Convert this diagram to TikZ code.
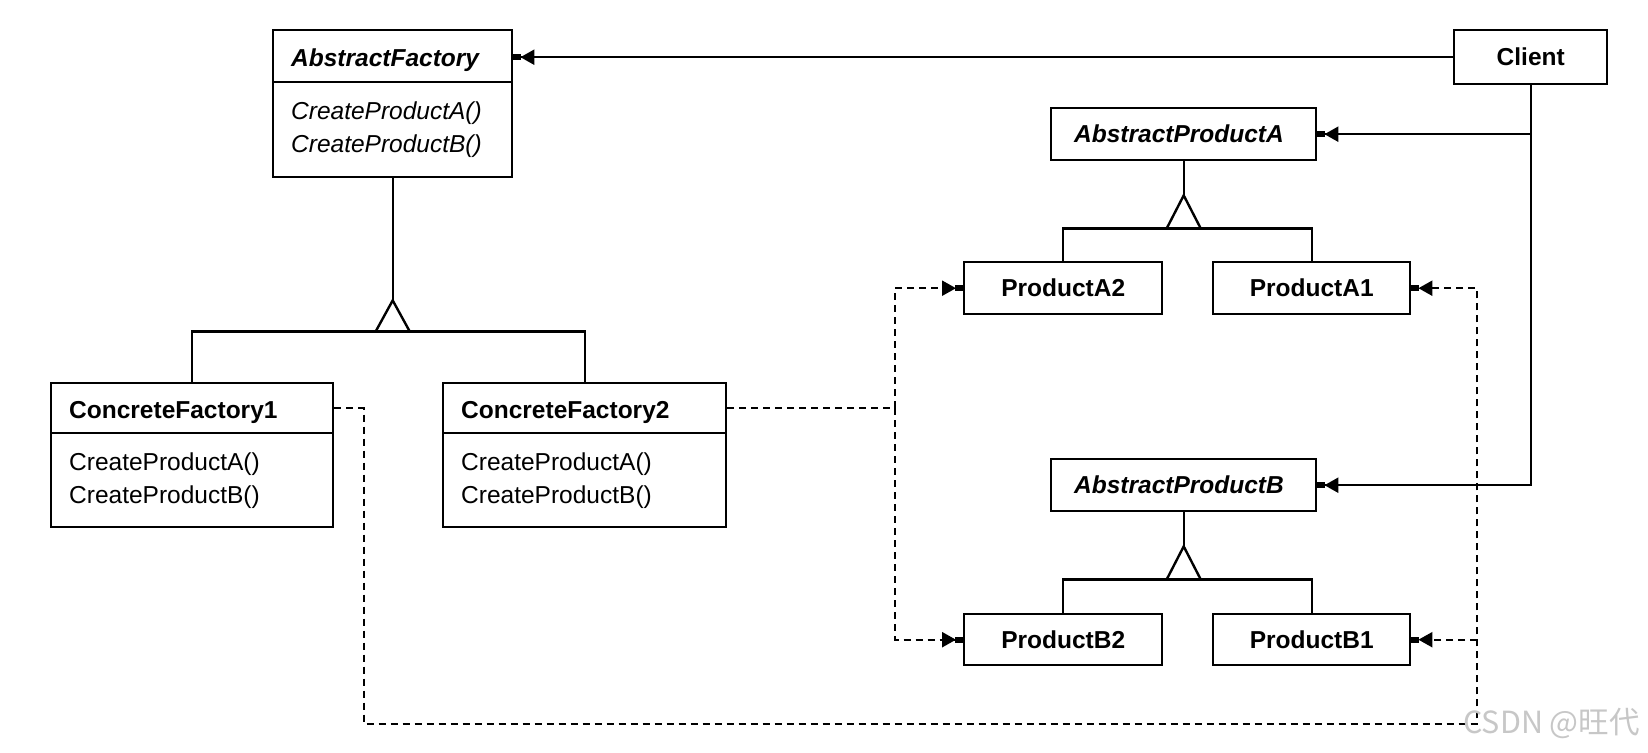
\documentclass[tikz,border=0pt]{standalone}
\usepackage{fontspec}
\setmainfont{Liberation Sans}
\newfontfamily\cjkfont{Noto Sans CJK SC}
\usetikzlibrary{arrows.meta}
\newcommand{\lowtitle}[1]{\raisebox{-4pt}[\height][\depth]{#1}}
\begin{document}
\begin{tikzpicture}[x=1pt,y=-1pt,
  txt/.style={font=\fontsize{24.5}{33}\selectfont},
  box/.style={draw, line width=2.4pt, inner ysep=0pt, anchor=north west, fill=white, txt},
  cbox/.style={box, align=center, inner xsep=0pt},
  lbox/.style={box, align=left, inner xsep=18pt},
  conn/.style={line width=2.4pt},
  dep/.style={line width=2.3pt, dash pattern=on 7pt off 5pt},
  tip/.style={-{Triangle[length=14pt,width=15pt,sep=-1pt]Rectangle[length=8pt,width=6pt]}},
  gen/.style={draw, line width=2.4pt, fill=white, line join=miter},
]
\fill[white] (0,0) rectangle (1648,752);
\useasboundingbox (0,0) rectangle (1648,752);

% AbstractFactory
\node[lbox, text width=203pt, minimum height=52pt] (af) at (272,29) {\lowtitle{\bfseries\itshape AbstractFactory}};
\node[lbox, text width=203pt, minimum height=95pt] (afb) at (272,81) {\itshape CreateProductA()\\\itshape CreateProductB()};

% Client
\node[cbox, minimum width=153pt, minimum height=54pt] (cl) at (1453,29) {\bfseries Client};

% Concrete factories
\node[lbox, text width=246pt, minimum height=50pt] (cf1) at (50,382) {\lowtitle{\bfseries ConcreteFactory1}};
\node[lbox, text width=246pt, minimum height=94pt] (cf1b) at (50,432) {CreateProductA()\\CreateProductB()};
\node[lbox, text width=247pt, minimum height=50pt] (cf2) at (442,382) {\lowtitle{\bfseries ConcreteFactory2}};
\node[lbox, text width=247pt, minimum height=94pt] (cf2b) at (442,432) {CreateProductA()\\CreateProductB()};

% Abstract products
\node[lbox, inner xsep=23pt, text width=219pt, minimum height=52pt] (apa) at (1050,107) {\bfseries\itshape AbstractProductA};
\node[lbox, inner xsep=23pt, text width=219pt, minimum height=52pt] (apb) at (1050,458) {\bfseries\itshape AbstractProductB};

% Products
\node[cbox, minimum width=198pt, minimum height=52pt] (pa2) at (963,261) {\bfseries ProductA2};
\node[cbox, minimum width=197pt, minimum height=52pt] (pa1) at (1212,261) {\bfseries ProductA1};
\node[cbox, minimum width=198pt, minimum height=51pt] (pb2) at (963,613) {\bfseries ProductB2};
\node[cbox, minimum width=197pt, minimum height=51pt] (pb1) at (1212,613) {\bfseries ProductB1};

% Client associations
\draw[conn, tip] (cl.west) -- (cl.west -| af.east);
\draw[conn, tip] (cl.south) |- (apa.east);
\draw[conn, tip] (cl.south) |- (apb.east);

% Generalization: factories
\coordinate (afT) at ([yshift=-122pt]afb.south);
\coordinate (afB) at ([yshift=-31pt]afT);
\draw[conn] (afb.south) -- (afT);
\draw[conn] (cf1.north) |- (cf2.north |- afB) -- (cf2.north);
\draw[gen] (afT) -- ([xshift=-17pt]afB) -- ([xshift=17pt]afB) -- cycle;

% Generalization: product A
\coordinate (paT) at ([yshift=-34pt]apa.south);
\coordinate (paB) at ([yshift=-33pt]paT);
\draw[conn] (apa.south) -- (paT);
\draw[conn] (pa2.north) |- (pa1.north |- paB) -- (pa1.north);
\draw[gen] (paT) -- ([xshift=-17pt]paB) -- ([xshift=17pt]paB) -- cycle;

% Generalization: product B
\coordinate (pbT) at ([yshift=-34pt]apb.south);
\coordinate (pbB) at ([yshift=-33pt]pbT);
\draw[conn] (apb.south) -- (pbT);
\draw[conn] (pb2.north) |- (pb1.north |- pbB) -- (pb1.north);
\draw[gen] (pbT) -- ([xshift=-17pt]pbB) -- ([xshift=17pt]pbB) -- cycle;

% Dependencies from ConcreteFactory1
\coordinate (r1) at (364,724);
\coordinate (r2) at (1477,724);
\draw[dep, tip] (cf1.east) -| (r1) -- (r2) |- (pa1.east);
\draw[dep, tip] (r2 |- pb1.east) -- (pb1.east);

% Dependencies from ConcreteFactory2
\coordinate (lx) at ([xshift=-68pt]pa2.west);
\draw[dep, tip] (cf2.east) -| (lx) -- (pa2.west);
\draw[dep, tip] (cf2.east -| lx) |- (pb2.west);

% Watermark
\node[anchor=west, text=black!22, inner sep=0pt, font=\cjkfont\fontsize{30.5}{32}\selectfont] (wm) at (1463,723) {CSDN @旺代};
\end{tikzpicture}
\end{document}
